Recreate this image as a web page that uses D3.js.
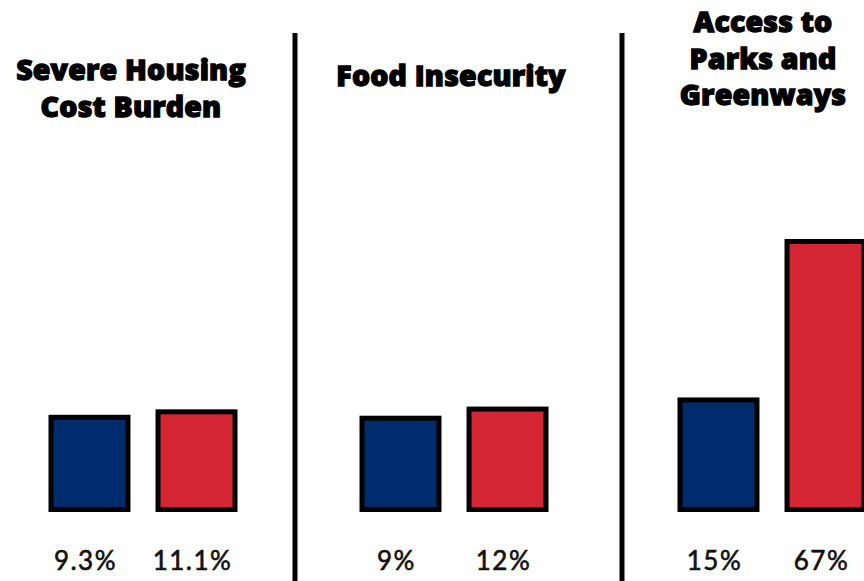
<!DOCTYPE html>
<html>
<head>
<meta charset="utf-8">
<script src="https://cdn.jsdelivr.net/npm/d3@7"></script>
<style>
  html, body { margin: 0; padding: 0; background: #fff; }
  .title { font-family: "Open Sans", "Lato", sans-serif; font-weight: 800; font-size: 28.5px; fill: #000; stroke: #000; stroke-width: 1.3px; letter-spacing: 0.2px; }
  .value { font-family: "Lato", "Open Sans", sans-serif; font-weight: 400; font-size: 26px; letter-spacing: 1.5px; fill: #111; stroke: #111; stroke-width: 0.6px; }
</style>
</head>
<body>
<svg id="chart" width="864" height="581"></svg>
<script>
// data
const panels = ["Severe Housing Cost Burden", "Food Insecurity", "Access to Parks and Greenways"];
const titleLines = [["Severe Housing", "Cost Burden"], ["Food Insecurity"], ["Access to", "Parks and", "Greenways"]];
const series = ["blue", "red"];
const blueValues = [9.3, 9, 15];
const redValues = [11.1, 12, 67];
const valueLabels = [["9.3%", "11.1%"], ["9%", "12%"], ["15%", "67%"]];

const svg = d3.select("#chart");
const W = 864, H = 581;
let baseY = 512;
let stroke = 5;

// panel centers
let x0 = d3.scaleOrdinal().domain(panels).range([143, 454, 772]);
let x1 = d3.scaleBand().domain(series).range([-94.5, 94.5]).paddingInner(0.234).paddingOuter(0);

// bars are not drawn from zero in the original, the scale starts below zero
let y = d3.scaleLinear().domain([-22.6, 67]).range([baseY, baseY - 273]);

let color = d3.scaleOrdinal().domain(series).range(["#002b6c", "#d42632"]);

// dividers
[295, 622].forEach(dx => {
  svg.append("line")
    .attr("x1", dx).attr("x2", dx)
    .attr("y1", 33).attr("y2", H)
    .attr("stroke", "#000")
    .attr("stroke-width", 5);
});

let rows = [];
panels.forEach((p, i) => {
  rows.push({ panel: p, s: "blue", v: blueValues[i], label: valueLabels[i][0] });
  rows.push({ panel: p, s: "red", v: redValues[i], label: valueLabels[i][1] });
});

svg.selectAll(".bar")
  .data(rows)
  .enter()
  .append("rect")
  .attr("class", "bar")
  .attr("x", d => x0(d.panel) + x1(d.s) + stroke / 2)
  .attr("y", d => y(d.v) + stroke / 2)
  .attr("width", x1.bandwidth() - stroke)
  .attr("height", d => baseY - y(d.v) - stroke)
  .style("fill", d => color(d.s))
  .style("stroke", "#000")
  .style("stroke-width", stroke);

// labels sit a little left of the bar centers
svg.selectAll(".value")
  .data(rows)
  .enter()
  .append("text")
  .attr("class", "value")
  .attr("x", d => x0(d.panel) + x1(d.s) + x1.bandwidth() / 2 - 4)
  .attr("y", 570)
  .attr("text-anchor", "middle")
  .text(d => d.label);

// titles
let titleBase = [80, 86, 32];
let titleShift = [-12, -3, -9];
panels.forEach((p, i) => {
  let t = svg.append("text")
    .attr("class", "title")
    .attr("text-anchor", "middle");
  titleLines[i].forEach((line, j) => {
    t.append("tspan")
      .attr("x", x0(p) + titleShift[i])
      .attr("y", titleBase[i] + j * 36.5)
      .text(line);
  });
});
</script>
</body>
</html>
